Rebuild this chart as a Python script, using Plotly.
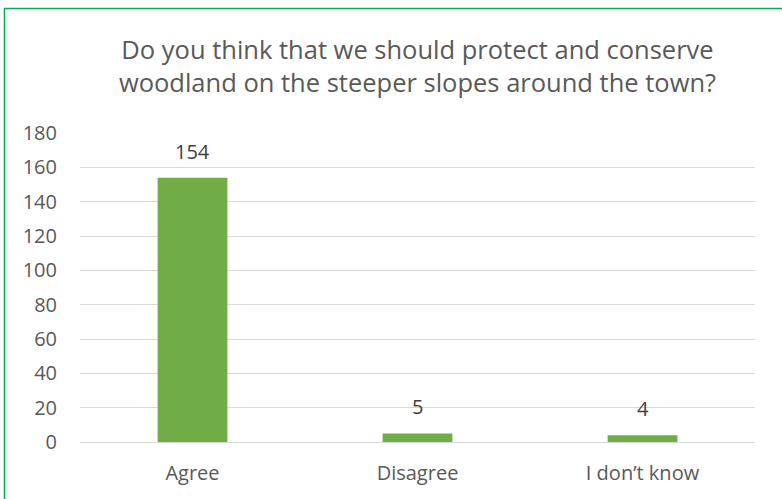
import plotly.graph_objects as go

categories = ["Agree", "Disagree", "I don\u2019t know"]
values = [154, 5, 4]
y_ticks = [0, 20, 40, 60, 80, 100, 120, 140, 160, 180]
title_text = "Do you think that we should protect and conserve<br>woodland on the steeper slopes around the town?"

W, H = 782, 499
L, R, T, B = 80, 27, 133, 57
pw, ph = W - L - R, H - T - B

def px_x(p):
    return (p - L) / pw

def px_y(p):
    return (H - B - p) / ph

FONT = "Open Sans"
TXT = "#595959"

fig = go.Figure()
fig.add_trace(go.Bar(
    x=categories, y=values,
    marker=dict(color="#70AD47", line=dict(width=0)),
    width=0.31,
    hoverinfo="skip",
))

for c, v in zip(categories, values):
    fig.add_annotation(x=c, y=v, text=str(v), showarrow=False,
                       yanchor="bottom", yshift=11,
                       font=dict(family=FONT, size=20, color="#404040"))

fig.add_shape(type="rect", xref="paper", yref="paper",
              x0=px_x(4.5), x1=px_x(800), y0=px_y(8.5), y1=px_y(520),
              line=dict(color="#00B050", width=1.5), fillcolor="rgba(0,0,0,0)",
              layer="above")

fig.update_layout(
    width=W, height=H,
    margin=dict(l=L, r=R, t=T, b=B),
    paper_bgcolor="white", plot_bgcolor="white",
    showlegend=False,
    title=dict(text=title_text, x=0.5, xanchor="center", xref="paper",
               y=1 - 59 / H, yanchor="middle",
               font=dict(family=FONT, size=25.5, color=TXT)),
    xaxis=dict(showgrid=False, showline=False, zeroline=False,
               tickfont=dict(family=FONT, size=20, color=TXT),
               ticks="", ticklabelstandoff=17),
    yaxis=dict(range=[0, 180], tickvals=y_ticks, showgrid=True,
               gridcolor="#D9D9D9", gridwidth=1, zeroline=True,
               zerolinecolor="#D9D9D9", zerolinewidth=1, showline=False,
               tickfont=dict(family=FONT, size=20, color=TXT),
               ticks="", ticklabelstandoff=22),
    bargap=0.69,
)

fig.write_html("out.html")
